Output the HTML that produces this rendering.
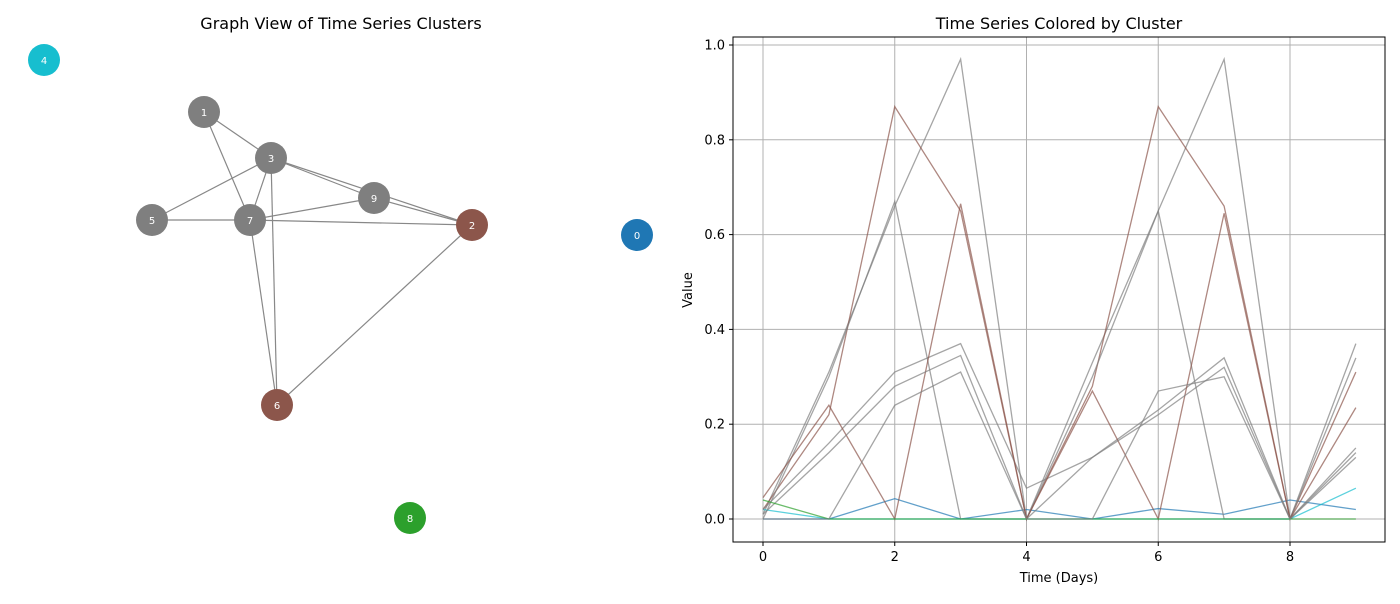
<!DOCTYPE html>
<html><head><meta charset="utf-8"><style>
body{margin:0;background:#fff;font-family:"DejaVu Sans","Liberation Sans",sans-serif}
svg text{font-family:"DejaVu Sans","Liberation Sans",sans-serif}
</style></head><body>
<svg id="s" width="1400" height="600" xmlns="http://www.w3.org/2000/svg">
<text x="341" y="29" font-size="16" text-anchor="middle">Graph View of Time Series Clusters</text>
<g id="graph"></g>
<text x="1059" y="29" font-size="16" text-anchor="middle">Time Series Colored by Cluster</text>
<g id="grid"></g>
<g id="lines"></g>
<rect x="733" y="37" width="652" height="505" fill="none" stroke="#000" stroke-width="1"/>
<g id="ticks"></g>
<text x="1059" y="582" font-size="13" text-anchor="middle">Time (Days)</text>
<text x="692" y="290" font-size="13" text-anchor="middle" transform="rotate(-90 692 290)">Value</text>
</svg>
<script>
const nodeIds=[0,1,2,3,4,5,6,7,8,9];
const nodeColors=["#1f77b4","#7f7f7f","#8c564b","#7f7f7f","#17becf","#7f7f7f","#8c564b","#7f7f7f","#2ca02c","#7f7f7f"];
const nodeX=[637,204,472,271,44,152,277,250,410,374];
const nodeY=[235,112,225,158,60,220,405,220,518,198];
const edges=[[1,3],[1,7],[3,5],[3,7],[3,9],[3,2],[3,6],[5,7],[7,9],[7,2],[7,6],[9,2],[2,6]];
const days=[0,1,2,3,4,5,6,7,8,9];
const s0=[0,0,0.043,0,0.02,0,0.022,0.01,0.04,0.02];
const s1=[0.01,0.31,0.66,0.97,0,0.33,0.65,0.97,0,0.37];
const s2=[0.02,0.22,0.87,0.65,0,0.28,0.87,0.66,0,0.31];
const s3=[0,0.3,0.67,0,0,0.3,0.65,0,0,0.34];
const s4=[0.02,0,0,0,0,0,0,0,0,0.065];
const s5=[0.02,0.16,0.31,0.37,0.065,0.13,0.23,0.34,0,0.15];
const s6=[0.045,0.24,0,0.665,0,0.27,0,0.645,0,0.235];
const s7=[0.01,0.14,0.28,0.345,0,0.13,0.22,0.32,0,0.13];
const s8=[0.04,0,0,0,0,0,0,0,0,0];
const s9=[0,0,0.24,0.31,0,0,0.27,0.30,0,0.14];
const series=[s0,s1,s2,s3,s4,s5,s6,s7,s8,s9];
const xTicks=[0,2,4,6,8];
const yTicks=[0,0.2,0.4,0.6,0.8,1.0];
const NS="http://www.w3.org/2000/svg";
function mk(t,a,p){const e=document.createElementNS(NS,t);for(const k in a)e.setAttribute(k,a[k]);p.appendChild(e);return e;}
const xs=v=>763+v*65.875, ys=v=>519-v*474;
const G=document.getElementById('graph');
edges.forEach(([a,b])=>{const l=mk('line',{x1:nodeX[a],y1:nodeY[a],x2:nodeX[b],y2:nodeY[b],stroke:'#888',"stroke-width":1.2},G);

});
nodeIds.forEach(i=>{const c=mk('circle',{cx:nodeX[i],cy:nodeY[i],r:16,fill:nodeColors[i]},G);


const t=mk('text',{x:nodeX[i],y:nodeY[i]+4,"font-size":10,fill:'#fff',"text-anchor":'middle'},G);t.textContent=i;

});
const GR=document.getElementById('grid'),T=document.getElementById('ticks');
xTicks.forEach(v=>{const l=mk('line',{x1:xs(v),x2:xs(v),y1:37,y2:542,stroke:'#b0b0b0',"stroke-width":1},GR);


mk('line',{x1:xs(v),x2:xs(v),y1:542,y2:546,stroke:'#000'},T);
const t=mk('text',{x:xs(v),y:561,"font-size":13,"text-anchor":'middle'},T);t.textContent=v;

});
yTicks.forEach(v=>{const l=mk('line',{x1:733,x2:1385,y1:ys(v),y2:ys(v),stroke:'#b0b0b0',"stroke-width":1},GR);


mk('line',{x1:729,x2:733,y1:ys(v),y2:ys(v),stroke:'#000'},T);
const t=mk('text',{x:725,y:ys(v)+4.5,"font-size":13,"text-anchor":'end'},T);t.textContent=v.toFixed(1);

});
const L=document.getElementById('lines');
series.forEach((d,i)=>{const p=mk('polyline',{points:d.map((v,j)=>xs(days[j])+','+ys(v)).join(' '),fill:'none',stroke:nodeColors[i],"stroke-width":1.3,"stroke-opacity":0.7},L);

});
</script>
</body></html>
